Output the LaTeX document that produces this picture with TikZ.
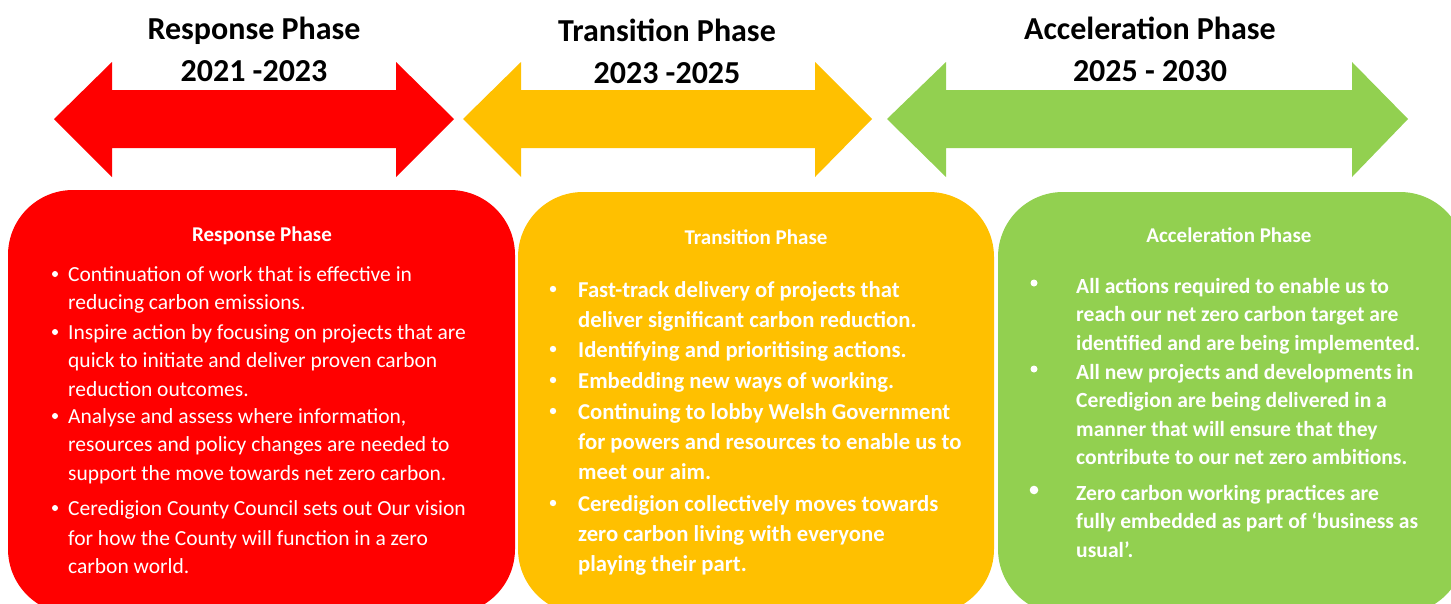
\documentclass[tikz,border=0pt]{standalone}
\usepackage{fontspec}
\setmainfont{Carlito}
\usepackage{xcolor}
\usepackage{tikz}

\definecolor{respred}{HTML}{FF0000}
\definecolor{transyellow}{HTML}{FFC000}
\definecolor{accgreen}{HTML}{92D050}

% double arrow: colour, left tip, left base, right base, right tip
\newcommand{\phasearrow}[5]{%
\fill[#1] (#2,119) -- (#3,62) -- (#3,90) -- (#4,90) -- (#4,62) -- (#5,119)
  -- (#4,177) -- (#4,148) -- (#3,148) -- (#3,177) -- cycle;}

\tikzset{
  phasetitle/.style={font=\fontsize{32}{42}\selectfont\bfseries, align=center, inner sep=0pt},
  boxtitle/.style={white, font=\fontsize{21}{24}\selectfont\bfseries, inner sep=0pt},
  itemtext/.style={white, anchor=north west, align=left, inner sep=0pt},
  redtext/.style={itemtext, font=\fontsize{21.5}{28.5}\selectfont},
  yellowtext/.style={itemtext, font=\fontsize{22.7}{30}\selectfont\bfseries},
  greentext/.style={itemtext, font=\fontsize{21.6}{28.5}\selectfont\bfseries},
}

\begin{document}
\begin{tikzpicture}[x=1pt,y=-1pt]
\useasboundingbox (0,0) rectangle (1451,603);
\begin{scope}
\clip (0,0) rectangle (1451,603);
\fill[respred, rounded corners=65pt] (8,190) rectangle (515,614);
\fill[transyellow, rounded corners=65pt] (518,192) rectangle (994,614);
\fill[accgreen, rounded corners=65pt] (998,192) rectangle (1465,614);
\end{scope}

\phasearrow{respred}{54}{112}{396}{454}
\phasearrow{transyellow}{463}{521}{815}{872}
\phasearrow{accgreen}{887}{946}{1352}{1408}

\node[phasetitle] (resptitle) at (254,49) {Response Phase\\2021 -2023};
\node[phasetitle] (transtitle) at (667,51) {Transition Phase\\2023 -2025};
\node[phasetitle] (acctitle) at (1150,49) {Acceleration Phase\\2025 - 2030};

\node[boxtitle] (resphead) at (262,236) {Response Phase};
\node[boxtitle] (transhead) at (756,237) {Transition Phase};
\node[boxtitle] (acchead) at (1229,235) {Acceleration Phase};

% response phase items
\foreach \ypos/\txt [count=\i] in {
  274/{Continuation of work that is effective in\\reducing carbon emissions.},
  332/{Inspire action by focusing on projects that are\\quick to initiate and deliver proven carbon\\reduction outcomes.},
  416/{Analyse and assess where information,\\resources and policy changes are needed to\\support the move towards net zero carbon.},
  508/{Ceredigion County Council sets out Our vision\\[1.5pt]for how the County will function in a zero\\carbon world.}}
{
  \fill[white] (55,\ypos) circle (3);
  \node[redtext] (resp\i) at (68,\ypos-8) {\txt};
}

% transition phase items
\foreach \ypos/\txt [count=\i] in {
  289/{Fast-track delivery of projects that\\deliver significant carbon reduction.},
  349/{Identifying and prioritising actions.},
  380/{Embedding new ways of working.},
  411/{Continuing to lobby Welsh Government\\for powers and resources to enable us to\\meet our aim.},
  503/{Ceredigion collectively moves towards\\zero carbon living with everyone\\playing their part.}}
{
  \fill[white] (553,\ypos) circle (3.2);
  \node[yellowtext] (trans\i) at (578,\ypos-8) {\txt};
}

% acceleration phase items
\foreach \ypos/\txt/\rad [count=\i] in {
  286/{All actions required to enable us to\\reach our net zero carbon target are\\identified and are being implemented.}/3.5,
  372/{All new projects and developments in\\Ceredigion are being delivered in a\\manner that will ensure that they\\contribute to our net zero ambitions.}/3.5,
  493/{Zero carbon working practices are\\fully embedded as part of ‘business as\\usual’.}/4.3}
{
  \fill[white] (1034,\ypos-3) circle (\rad);
  \node[greentext] (acc\i) at (1076,\ypos-8) {\txt};
}
\end{tikzpicture}
\end{document}
